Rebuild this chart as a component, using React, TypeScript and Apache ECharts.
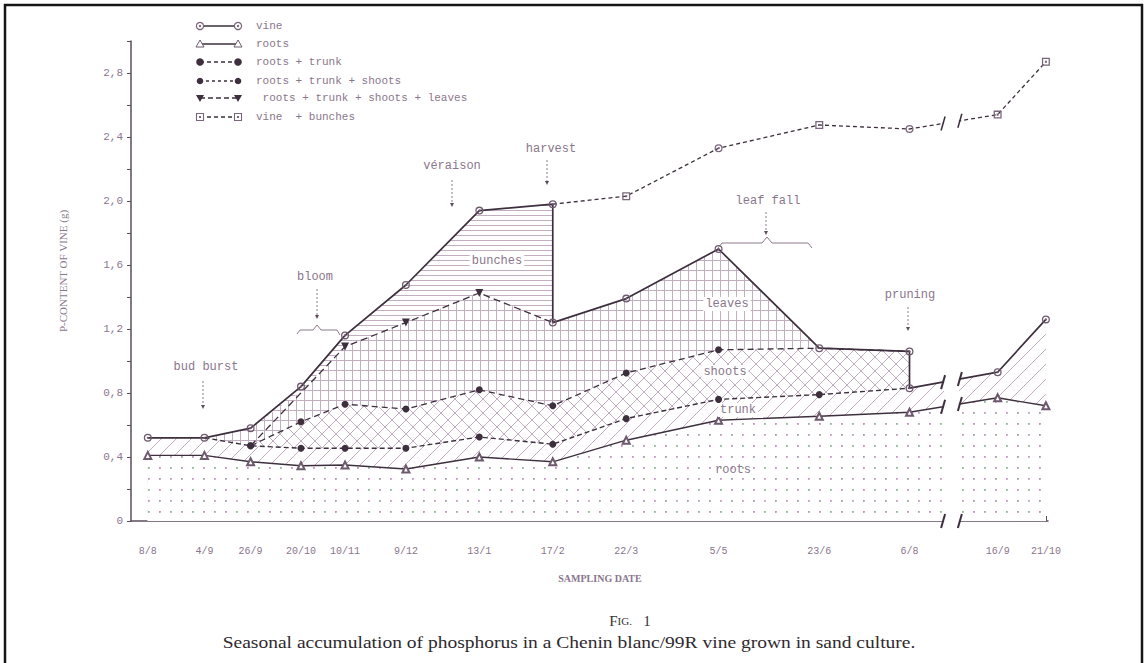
import React, { useEffect, useRef } from 'react';
import * as echarts from 'echarts';

// ---------- data ----------
const dateLabels = ['8/8', '4/9', '26/9', '20/10', '10/11', '9/12', '13/1', '17/2', '22/3', '5/5', '23/6', '6/8', '16/9', '21/10'];
// position of each sampling date on the time axis, in days after 8/8 (as plotted)
const sampleDays = [0, 27, 49, 73, 94, 123, 158, 193, 228, 272, 320, 363, 405, 428];

const vine = [0.52, 0.52, 0.58, 0.84, 1.16, 1.475, 1.94, 1.24, 1.39, 1.70, 1.08, 1.06, null, null];
const vineAfterPruning = [null, null, null, null, null, null, null, null, null, null, null, 0.83, 0.93, 1.26];
const vineBunches = [null, null, null, null, null, null, null, 1.98, 2.03, 2.33, 2.475, 2.45, 2.54, 2.87];
const roots = [0.41, 0.41, 0.37, 0.345, 0.35, 0.325, 0.40, 0.37, 0.505, 0.63, 0.655, 0.68, 0.77, 0.72];
const rootsTrunk = [null, 0.52, 0.47, 0.455, 0.455, 0.455, 0.525, 0.48, 0.64, 0.76, 0.79, 0.83, null, null];
const rootsTrunkShoots = [null, null, 0.47, 0.62, 0.73, 0.70, 0.82, 0.72, 0.925, 1.07, 1.08, 1.06, null, null];
const rootsTrunkShootsLeaves = [null, null, 0.47, null, 1.09, 1.24, 1.425, 1.24, null, null, null, null, null, null];

// upper edges of the hatched bands
const bandLeavesTop = [0.52, 0.52, 0.58, 0.81, 1.09, 1.24, 1.425, 1.24, 1.39, 1.70, 1.08, null, null, null];
const bandShootsTop = [0.52, 0.52, 0.47, 0.62, 0.73, 0.70, 0.82, 0.72, 0.925, 1.07, 1.08, 1.06, null, null];
const bandTrunkTop = [0.52, 0.52, 0.47, 0.455, 0.455, 0.455, 0.525, 0.48, 0.64, 0.76, 0.79, 0.83, 0.93, 1.26];

const seriesNames = ['vine', 'roots', 'roots + trunk', 'roots + trunk + shoots', ' roots + trunk + shoots + leaves', 'vine  + bunches'];
const bandNames = ['bunches', 'leaves', 'shoots', 'trunk', 'roots'];

const yMin = 0;
const yMax = 3.0;
const yInterval = 0.2;
const axisBreak = [379, 387]; // day range cut out of the time axis

// ---------- style ----------
const DARK = '#3d2f3d';
const TEXT = '#8a768c';
const HATCH = '#c3adc1';
const MONO = '"Liberation Mono", "DejaVu Sans Mono", monospace';
const SERIF = '"Liberation Serif", "DejaVu Serif", serif';

const SYM_RING = 'path://M0,-5A5,5 0 1,1 0,5A5,5 0 1,1 0,-5ZM0,-3.4A3.4,3.4 0 1,0 0,3.4A3.4,3.4 0 1,0 0,-3.4ZM0,-1.3A1.3,1.3 0 1,1 0,1.3A1.3,1.3 0 1,1 0,-1.3Z';
const SYM_SQUARE = 'path://M-5,-5H5V5H-5ZM-3.4,-3.4V3.4H3.4V-3.4ZM-1.3,-1.3H1.3V1.3H-1.3Z';

const HARVEST = dateLabels.indexOf('17/2');

function pts(arr: (number | null)[]) {
  const out: number[][] = [];
  arr.forEach((v, i) => { if (v != null) out.push([sampleDays[i], v]); });
  return out;
}

function vinePath() {
  const out: number[][] = [];
  sampleDays.forEach((d, i) => {
    const v = vine[i];
    if (v != null) {
      if (i === HARVEST) out.push([d, vineBunches[i] as number]);
      out.push([d, v]);
    }
    const p = vineAfterPruning[i];
    if (p != null) out.push([d, p]);
  });
  return out;
}

function items(arr: (number | null)[], symbolAt: (i: number) => string | null) {
  const out: any[] = [];
  arr.forEach((v, i) => {
    if (v == null) return;
    const s = symbolAt(i);
    out.push(s ? { value: [sampleDays[i], v], symbol: s } : [sampleDays[i], v]);
  });
  return out;
}

function tile(w: number, h: number, draw: (c: CanvasRenderingContext2D) => void) {
  const cv = document.createElement('canvas');
  cv.width = w;
  cv.height = h;
  const c = cv.getContext('2d') as CanvasRenderingContext2D;
  c.fillStyle = '#ffffff';
  c.fillRect(0, 0, w, h);
  c.strokeStyle = HATCH;
  c.fillStyle = HATCH;
  c.lineWidth = 1;
  draw(c);
  return { image: cv.toDataURL(), repeat: 'repeat', imageWidth: w, imageHeight: h };
}

function makePatterns() {
  return {
    bunches: tile(4, 5, (c) => { c.fillRect(0, 0, 4, 1); }),
    leaves: tile(8, 10, (c) => { c.fillRect(0, 0, 8, 1); c.fillRect(0, 0, 1, 10); }),
    shoots: tile(14, 14, (c) => {
      c.beginPath(); c.moveTo(0, 0); c.lineTo(14, 14); c.moveTo(14, 0); c.lineTo(0, 14); c.stroke();
    }),
    trunk: tile(15, 15, (c) => {
      c.beginPath(); c.moveTo(-1, 16); c.lineTo(16, -1); c.stroke();
    }),
    roots: tile(22, 22, (c) => {
      c.fillStyle = '#c48cc0'; c.fillRect(5, 5, 1.8, 1.8);
      c.fillStyle = '#8fb59c'; c.fillRect(16, 5, 1.8, 1.8);
      c.fillStyle = '#a59aa8'; c.fillRect(5, 16, 1.8, 1.8);
      c.fillStyle = '#c795c3'; c.fillRect(16, 16, 1.8, 1.8);
    }),
  };
}

function band(name: string, data: number[][], pattern: any) {
  return {
    type: 'line', name, data, symbol: 'none', silent: true, z: 1,
    lineStyle: { width: 0, opacity: 0 },
    areaStyle: { color: pattern, opacity: 1 },
    emphasis: { disabled: true },
  };
}

function buildOption() {
  const pat = makePatterns();
  const yLabel = (v: number) => {
    const t = Math.round(v * 10);
    if (t % 4 !== 0) return '';
    return v === 0 ? '0' : v.toFixed(1).replace('.', ',');
  };
  return {
    animation: false,
    backgroundColor: '#ffffff',
    grid: { left: 131, right: 100, top: 41, bottom: 142, outerBoundsMode: 'none' },
    xAxis: {
      type: 'value', min: -8, max: 429,
      axisLine: { show: true, onZero: false, lineStyle: { color: '#5e4c5e', width: 1.5 } },
      axisTick: { show: true, inside: true, length: 5, customValues: sampleDays, lineStyle: { color: '#5e4c5e' } },
      axisLabel: {
        customValues: sampleDays, margin: 25, color: TEXT, fontFamily: MONO, fontSize: 10,
        formatter: (v: number) => { const i = sampleDays.indexOf(v); return i >= 0 ? dateLabels[i] : ''; },
      },
      splitLine: { show: false },
    },
    yAxis: {
      type: 'value', min: yMin, max: yMax, interval: yInterval,
      axisLine: { show: true, onZero: false, lineStyle: { color: '#5e4c5e', width: 1.5 } },
      axisTick: { show: true, length: 4, lineStyle: { color: '#5e4c5e' } },
      axisLabel: { color: TEXT, fontFamily: MONO, fontSize: 11, margin: 8, formatter: yLabel },
      splitLine: { show: false },
    },
    series: [
      band(bandNames[0], vinePath(), pat.bunches),
      band(bandNames[1], pts(bandLeavesTop), pat.leaves),
      band(bandNames[2], pts(bandShootsTop), pat.shoots),
      band(bandNames[3], pts(bandTrunkTop), pat.trunk),
      band(bandNames[4], pts(roots), pat.roots),
      {
        type: 'line', name: seriesNames[0], data: vinePath(), z: 4,
        symbol: SYM_RING, symbolSize: 8, showAllSymbol: true,
        lineStyle: { color: DARK, width: 1.7 }, itemStyle: { color: '#6e5a6e' },
      },
      {
        type: 'line', name: seriesNames[1], data: pts(roots), z: 4,
        symbol: 'emptyTriangle', symbolSize: 7, showAllSymbol: true,
        lineStyle: { color: DARK, width: 1.4 }, itemStyle: { color: '#6e5a6e', borderWidth: 1 },
      },
      {
        type: 'line', name: seriesNames[2], z: 3,
        data: items(rootsTrunk, (i) => (i === 1 || i === 11 ? 'none' : null)),
        symbol: 'circle', symbolSize: 7, showAllSymbol: true,
        lineStyle: { color: DARK, width: 1.4, type: [5, 3] }, itemStyle: { color: DARK },
      },
      {
        type: 'line', name: seriesNames[3], z: 3,
        data: items(rootsTrunkShoots, (i) => (i >= 10 ? 'none' : null)),
        symbol: 'circle', symbolSize: 7, showAllSymbol: true,
        lineStyle: { color: DARK, width: 1.3, type: [6, 4] }, itemStyle: { color: DARK },
      },
      {
        type: 'line', name: seriesNames[4], z: 3,
        data: items(rootsTrunkShootsLeaves, (i) => (i === 2 || i === HARVEST ? 'none' : null)),
        symbol: 'triangle', symbolRotate: 180, symbolSize: 8, showAllSymbol: true,
        lineStyle: { color: DARK, width: 1.3, type: [7, 4] }, itemStyle: { color: DARK },
      },
      {
        type: 'line', name: seriesNames[5], z: 3,
        data: items(vineBunches, (i) => (i === HARVEST ? 'none' : (i === 9 || i === 11 ? SYM_RING : null))),
        symbol: SYM_SQUARE, symbolSize: 8, showAllSymbol: true,
        lineStyle: { color: DARK, width: 1.3, type: [4, 3] }, itemStyle: { color: '#7a667a' },
      },
    ],
  };
}

function interp(arr: (number | null)[], d: number) {
  for (let i = 0; i < sampleDays.length - 1; i++) {
    const a = arr[i], b = arr[i + 1];
    if (a != null && b != null && sampleDays[i] <= d && d <= sampleDays[i + 1]) {
      return a + (b - a) * (d - sampleDays[i]) / (sampleDays[i + 1] - sampleDays[i]);
    }
  }
  return 0;
}

function legendMarker(kind: number, x: number, y: number): any[] {
  const s = { stroke: '#6e5a6e', lineWidth: 1 };
  switch (kind) {
    case 0:
      return [
        { type: 'circle', shape: { cx: x, cy: y, r: 3.6 }, style: { fill: '#fff', stroke: '#7a667a', lineWidth: 1.2 } },
        { type: 'circle', shape: { cx: x, cy: y, r: 1.2 }, style: { fill: '#7a667a' } },
      ];
    case 1:
      return [{ type: 'polygon', shape: { points: [[x - 4, y + 3], [x + 4, y + 3], [x, y - 4]] }, style: { fill: '#fff', ...s } }];
    case 2:
      return [{ type: 'circle', shape: { cx: x, cy: y, r: 3.8 }, style: { fill: DARK } }];
    case 3:
      return [{ type: 'circle', shape: { cx: x, cy: y, r: 3.3 }, style: { fill: DARK } }];
    case 4:
      return [{ type: 'polygon', shape: { points: [[x - 4, y - 3], [x + 4, y - 3], [x, y + 4]] }, style: { fill: DARK } }];
    default:
      return [
        { type: 'rect', shape: { x: x - 3.5, y: y - 3.5, width: 7, height: 7 }, style: { fill: '#fff', stroke: '#7a667a', lineWidth: 1.1 } },
        { type: 'rect', shape: { x: x - 1, y: y - 1, width: 2, height: 2 }, style: { fill: '#7a667a' } },
      ];
  }
}

function buildGraphic(chart: any) {
  const g: any[] = [];
  const Z = 100;
  const px = (d: number, v: number) => chart.convertToPixel({ gridIndex: 0 }, [d, v]) as number[];

  // frame
  g.push({ type: 'rect', z: Z, shape: { x: 5, y: 5, width: 1137, height: 720 }, style: { fill: 'none', stroke: '#151515', lineWidth: 2.5 } });

  // axis break
  const xs = px(axisBreak[0], 0)[0];
  const xe = px(axisBreak[1], 0)[0];
  g.push({ type: 'rect', z: Z, shape: { x: xs + 1, y: 20, width: xe - xs - 2, height: 515 }, style: { fill: '#ffffff' } });
  const cutYs = [
    px(0, interp(vineBunches, axisBreak[0]))[1],
    px(0, interp(vineAfterPruning, axisBreak[0]))[1],
    px(0, interp(roots, axisBreak[0]))[1],
    px(0, 0)[1],
  ];
  const cutYe = [
    px(0, interp(vineBunches, axisBreak[1]))[1],
    px(0, interp(vineAfterPruning, axisBreak[1]))[1],
    px(0, interp(roots, axisBreak[1]))[1],
    px(0, 0)[1],
  ];
  cutYs.forEach((y, k) => {
    const w = k === 0 ? 1.5 : 2;
    g.push({ type: 'line', z: Z + 1, shape: { x1: xs + 2, y1: y - 7, x2: xs - 2, y2: y + 7 }, style: { stroke: DARK, lineWidth: w } });
    const y2 = cutYe[k];
    g.push({ type: 'line', z: Z + 1, shape: { x1: xe + 2, y1: y2 - 7, x2: xe - 2, y2: y2 + 7 }, style: { stroke: DARK, lineWidth: w } });
  });

  // legend
  const rowY = [26, 44, 62, 81, 98, 117];
  const dashes: any[] = [null, null, [4, 3], [3, 3], [5, 3], [4, 3]];
  seriesNames.forEach((name, i) => {
    const y = rowY[i];
    g.push({ type: 'line', z: Z, shape: { x1: 200, y1: y, x2: 238, y2: y }, style: { stroke: DARK, lineWidth: 1.3, lineDash: dashes[i] } });
    legendMarker(i, 200, y).forEach((e) => g.push({ ...e, z: Z + 1 }));
    legendMarker(i, 238, y).forEach((e) => g.push({ ...e, z: Z + 1 }));
    g.push({ type: 'text', z: Z, style: { text: name, x: 256, y, font: `11px ${MONO}`, fill: TEXT, textVerticalAlign: 'middle' } });
  });

  // event annotations
  const events = [
    { t: 'bud burst', tx: 206, ty: 367, ax: 203, a1: 381, a2: 409 },
    { t: 'bloom', tx: 315, ty: 277, ax: 317, a1: 289, a2: 319 },
    { t: 'véraison', tx: 452, ty: 166, ax: 452, a1: 180, a2: 207 },
    { t: 'harvest', tx: 551, ty: 149, ax: 547, a1: 160, a2: 185 },
    { t: 'leaf fall', tx: 768, ty: 201, ax: 766, a1: 212, a2: 235 },
    { t: 'pruning', tx: 910, ty: 295, ax: 908, a1: 307, a2: 331 },
  ];
  events.forEach((e) => {
    g.push({ type: 'text', z: Z, style: { text: e.t, x: e.tx, y: e.ty, font: `12px ${MONO}`, fill: TEXT, textAlign: 'center', textVerticalAlign: 'middle' } });
    g.push({ type: 'line', z: Z, shape: { x1: e.ax, y1: e.a1, x2: e.ax, y2: e.a2 - 3 }, style: { stroke: '#8e7a8c', lineWidth: 1, lineDash: [2, 2] } });
    g.push({ type: 'polygon', z: Z, shape: { points: [[e.ax - 2, e.a2 - 4], [e.ax + 2, e.a2 - 4], [e.ax, e.a2]] }, style: { fill: '#5e4c5e' } });
  });
  // braces
  g.push({ type: 'polyline', z: Z, shape: { points: [[297, 334], [300, 330], [313, 330], [317, 325], [321, 330], [337, 330], [340, 335]] }, style: { stroke: '#8e7a8c', lineWidth: 1, fill: 'none' } });
  g.push({ type: 'polyline', z: Z, shape: { points: [[718, 248], [722, 243], [762, 243], [767, 237], [772, 243], [808, 243], [812, 248]] }, style: { stroke: '#8e7a8c', lineWidth: 1, fill: 'none' } });

  // band labels
  const bandLabelPos = [[497, 261], [727, 304], [725, 372], [738, 410], [733, 470]];
  bandNames.forEach((name, i) => {
    g.push({
      type: 'text', z: Z,
      style: {
        text: name, x: bandLabelPos[i][0], y: bandLabelPos[i][1], font: `12px ${MONO}`, fill: TEXT,
        textAlign: 'center', textVerticalAlign: 'middle', backgroundColor: i === 4 ? 'transparent' : '#ffffff', padding: [1, 2],
      },
    });
  });

  // axis titles & caption
  g.push({ type: 'text', z: Z, x: 63, y: 271, rotation: Math.PI / 2, style: { text: 'P-CONTENT OF VINE (g)', font: `11px ${SERIF}`, fill: TEXT, textAlign: 'center', textVerticalAlign: 'middle' } });
  g.push({ type: 'text', z: Z, style: { text: 'SAMPLING DATE', x: 600, y: 578, font: `bold 10px ${SERIF}`, fill: TEXT, textAlign: 'center', textVerticalAlign: 'middle' } });
  g.push({
    type: 'text', z: Z,
    style: {
      text: '{a|F}{b|IG.}{a|   1}', x: 630, y: 621, textAlign: 'center', textVerticalAlign: 'middle', fill: '#333',
      rich: { a: { font: `15px ${SERIF}`, fill: '#333' }, b: { font: `11px ${SERIF}`, fill: '#333' } },
    },
  });
  g.push({ type: 'text', z: Z, x: 569, y: 643, scaleX: 1.22, style: { text: 'Seasonal accumulation of phosphorus in a Chenin blanc/99R vine grown in sand culture.', x: 0, y: 0, font: `16px ${SERIF}`, fill: '#2e2a2e', textAlign: 'center', textVerticalAlign: 'middle' } });

  return g;
}

export default function App() {
  const ref = useRef<HTMLDivElement>(null);
  useEffect(() => {
    document.body.style.margin = '0';
    const chart = echarts.init(ref.current as HTMLDivElement, null, { renderer: 'svg' });
    chart.setOption(buildOption() as any);
    chart.setOption({ graphic: buildGraphic(chart) } as any);
    return () => chart.dispose();
  }, []);
  return <div ref={ref} style={{ width: 1148, height: 663, background: '#ffffff' }} />;
}
